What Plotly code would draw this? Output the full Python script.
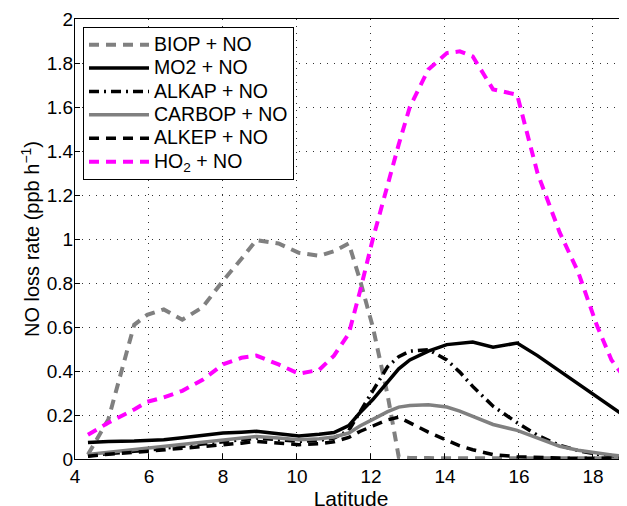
import plotly.graph_objects as go

latitude = [4.35, 4.9, 5.6, 5.95, 6.4, 6.9, 7.45, 8.0, 8.5, 8.9, 9.5, 10.05, 10.6, 11.0,
            11.4, 11.7, 12.05, 12.45, 12.75, 13.05, 13.55, 14.05, 14.4, 14.75, 15.3, 15.95,
            16.5, 17.1, 17.6, 18.1, 18.5, 18.9]

biop = [0.02, 0.18, 0.61, 0.655, 0.68, 0.633, 0.69, 0.81, 0.91, 0.995, 0.98, 0.937, 0.924, 0.944,
        0.98, 0.815, 0.6, 0.29, 0.01, 0.005, 0.004, 0.003, 0.003, 0.003, 0.003, 0.003,
        0.003, 0.003, 0.003, 0.003, 0.003, 0.003]
mo2 = [0.075, 0.08, 0.082, 0.083, 0.088, 0.097, 0.108, 0.118, 0.122, 0.126, 0.115, 0.105, 0.112, 0.12,
       0.152, 0.21, 0.27, 0.35, 0.41, 0.45, 0.49, 0.52, 0.527, 0.532, 0.508, 0.527,
       0.47, 0.40, 0.342, 0.284, 0.237, 0.19]
alkap = [0.015, 0.025, 0.035, 0.04, 0.05, 0.058, 0.068, 0.078, 0.088, 0.095, 0.088, 0.08, 0.085, 0.095,
         0.13, 0.21, 0.31, 0.42, 0.465, 0.49, 0.497, 0.45, 0.395, 0.33, 0.24, 0.165,
         0.108, 0.062, 0.038, 0.022, 0.014, 0.01]
carbop = [0.02, 0.03, 0.042, 0.048, 0.057, 0.066, 0.077, 0.088, 0.097, 0.102, 0.095, 0.088, 0.092, 0.1,
          0.118, 0.15, 0.18, 0.215, 0.236, 0.243, 0.247, 0.236, 0.218, 0.194, 0.157, 0.13,
          0.095, 0.058, 0.04, 0.027, 0.018, 0.012]
alkep = [0.012, 0.022, 0.03, 0.035, 0.042, 0.048, 0.055, 0.062, 0.072, 0.08, 0.072, 0.065, 0.07, 0.078,
         0.098, 0.125, 0.15, 0.178, 0.19, 0.165, 0.122, 0.085, 0.06, 0.042, 0.02, 0.01,
         0.006, 0.004, 0.003, 0.003, 0.003, 0.003]
ho2 = [0.11, 0.165, 0.225, 0.26, 0.28, 0.31, 0.36, 0.43, 0.46, 0.47, 0.43, 0.388, 0.405, 0.47,
       0.57, 0.76, 1.0, 1.25, 1.43, 1.60, 1.77, 1.845, 1.853, 1.83, 1.68, 1.656,
       1.30, 1.03, 0.85, 0.61, 0.45, 0.36]

names = ["BIOP + NO", "MO2 + NO", "ALKAP + NO", "CARBOP + NO", "ALKEP + NO", "HO<sub>2</sub> + NO"]
series = [biop, mo2, alkap, carbop, alkep, ho2]
styles = [
    dict(color="#808080", width=4, dash="10px,7px"),
    dict(color="#000000", width=3.5, dash="solid"),
    dict(color="#000000", width=3.5, dash="10px,5px,2px,5px"),
    dict(color="#808080", width=3.5, dash="solid"),
    dict(color="#000000", width=3.5, dash="10px,7px"),
    dict(color="#ff00ff", width=4, dash="10px,7px"),
]

FONT = "Liberation Sans, Arial, Helvetica, sans-serif"

fig = go.Figure()
for name, ys, st in zip(names, series, styles):
    fig.add_trace(go.Scatter(x=latitude, y=ys, mode="lines",
                             name='<span style="font-size:19.5px">' + name + '</span>', line=st))

# the page body adds an 8px offset; margins compensate so the plot area sits at 75..627 x 19..459
fig.update_layout(
    width=627, height=506,
    margin=dict(l=67, r=8, t=11, b=55),
    paper_bgcolor="white", plot_bgcolor="white",
    font=dict(family=FONT, size=19, color="black"),
    showlegend=True,
    legend=dict(x=0.0145, y=0.982, xanchor="left", yanchor="top",
                bgcolor="white", bordercolor="black", borderwidth=1,
                font=dict(family=FONT, size=15.7, color="black"),
                tracegroupgap=0, itemwidth=60),
)
fig.update_xaxes(
    range=[4, 18.92], tick0=4, dtick=2, showgrid=True, gridcolor="#333333", gridwidth=1,
    griddash="1px,6px", zeroline=False, showline=True, linecolor="black", linewidth=1,
    mirror=True, ticks="inside", ticklen=5, tickcolor="black", automargin=False,
    title=dict(text="Latitude", font=dict(family=FONT, size=21), standoff=3),
    tickfont=dict(family=FONT, size=19),
)
fig.update_yaxes(
    range=[0, 2], tick0=0, dtick=0.2, showgrid=True, gridcolor="#333333", gridwidth=1,
    griddash="1px,6px", zeroline=False, showline=True, linecolor="black", linewidth=1,
    ticks="inside", ticklen=5, tickcolor="black", automargin=False, ticklabelstandoff=-3,
    title=dict(text="NO loss rate (ppb h<sup>\u22121</sup>)", font=dict(family=FONT, size=20), standoff=1),
    tickfont=dict(family=FONT, size=19),
)

fig.write_html("out.html")
